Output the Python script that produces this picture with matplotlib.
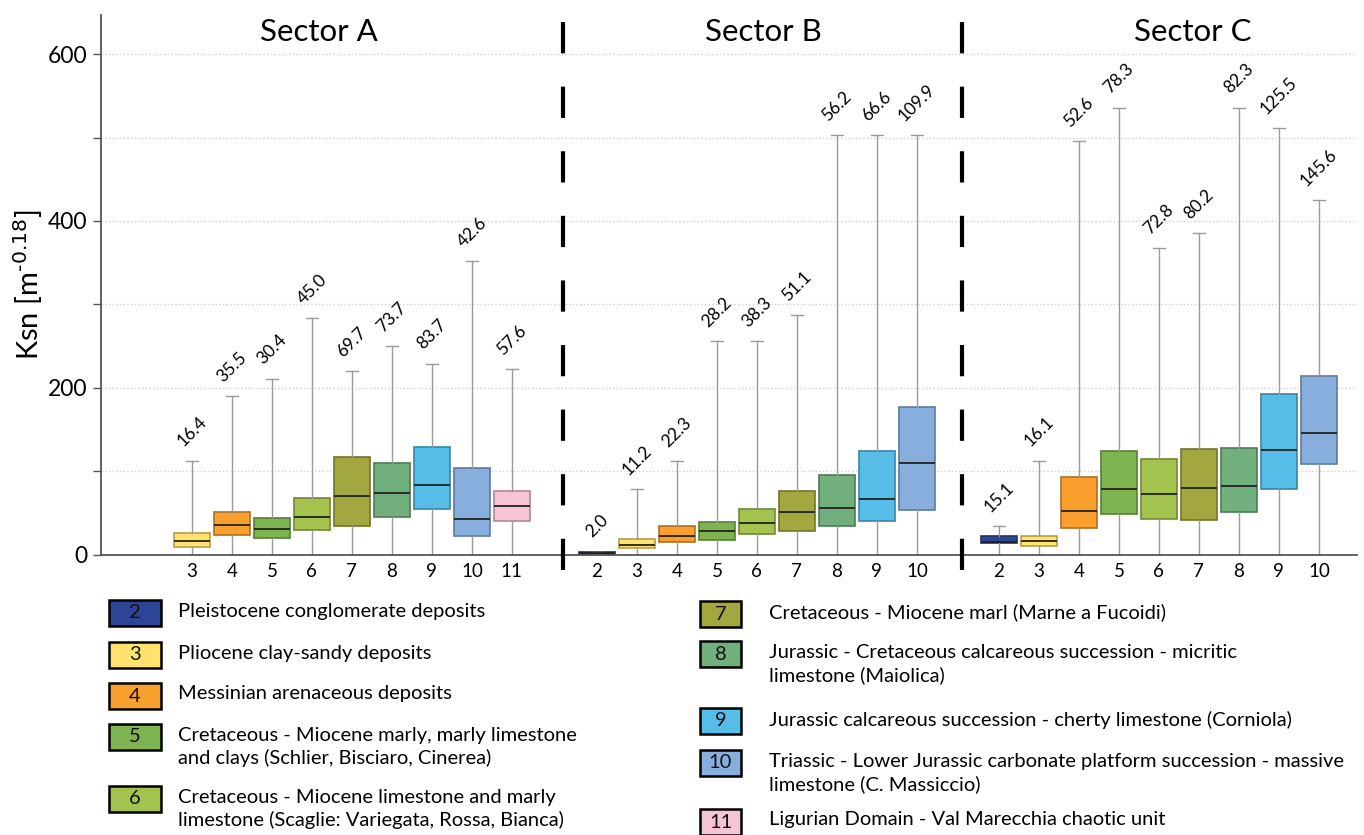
import matplotlib
matplotlib.use("Agg")
import matplotlib.pyplot as plt
from matplotlib.patches import Rectangle

plt.rcParams['font.family'] = ['Lato', 'DejaVu Sans']

# lithology units shown in each sector
units_a = [3, 4, 5, 6, 7, 8, 9, 10, 11]
units_b = [2, 3, 4, 5, 6, 7, 8, 9, 10]
units_c = [2, 3, 4, 5, 6, 7, 8, 9, 10]

# box statistics (Ksn), whiskers go down to 0 everywhere
med_a = [16.4, 35.5, 30.4, 45.0, 69.7, 73.7, 83.7, 42.6, 57.6]
q1_a = [8.6, 23.3, 20.0, 29.7, 34.0, 44.4, 54.0, 22.5, 39.7]
q3_a = [25.3, 50.4, 44.0, 68.3, 117.0, 109.3, 129.3, 103.4, 75.9]
hi_a = [112.5, 189.8, 211.0, 283.6, 220.0, 250.0, 229.0, 352.0, 222.0]

med_b = [2.0, 11.2, 22.3, 28.2, 38.3, 51.1, 56.2, 66.6, 109.9]
q1_b = [0.3, 7.6, 15.1, 17.1, 25.0, 28.7, 33.9, 39.8, 53.0]
q3_b = [2.8, 18.7, 33.9, 39.0, 54.2, 76.5, 95.2, 124.0, 176.5]
hi_b = [3.5, 78.5, 112.3, 255.8, 255.8, 286.8, 503.0, 503.0, 503.0]

med_c = [15.1, 16.1, 52.6, 78.3, 72.8, 80.2, 82.3, 125.5, 145.6]
q1_c = [13.5, 10.0, 31.9, 48.2, 42.6, 41.0, 51.0, 78.5, 108.0]
q3_c = [22.3, 22.3, 93.2, 124.7, 114.3, 127.0, 127.5, 192.4, 213.6]
hi_c = [34.3, 112.7, 495.6, 535.8, 367.0, 385.6, 535.8, 511.5, 425.0]

unit_colors = {2: '#2E4596', 3: '#FFE36E', 4: '#F9A02E', 5: '#7DB450',
               6: '#A4C24E', 7: '#A2A83F', 8: '#71AF7C', 9: '#56BDE8',
               10: '#88AEDE', 11: '#F7C3D6'}

legend_left = [2, 3, 4, 5, 6]
legend_left_text = ["Pleistocene conglomerate deposits",
                    "Pliocene clay-sandy deposits",
                    "Messinian arenaceous deposits",
                    "Cretaceous - Miocene marly, marly limestone\nand clays (Schlier, Bisciaro, Cinerea)",
                    "Cretaceous - Miocene limestone and marly\nlimestone (Scaglie: Variegata, Rossa, Bianca)"]
legend_right = [7, 8, 9, 10, 11]
legend_right_text = ["Cretaceous - Miocene marl (Marne a Fucoidi)",
                     "Jurassic - Cretaceous calcareous succession - micritic\nlimestone (Maiolica)",
                     "Jurassic calcareous succession - cherty limestone (Corniola)",
                     "Triassic - Lower Jurassic carbonate platform succession - massive\nlimestone (C. Massiccio)",
                     "Ligurian Domain - Val Marecchia chaotic unit"]


def darker(c, f=0.7):
    r, g, b = matplotlib.colors.to_rgb(c)
    return (r * f, g * f, b * f)


fig = plt.figure(figsize=(13.64, 8.35), dpi=100)
ax = fig.add_axes([0.0740, 0.3359, 0.9208, 0.6462])

# name, units, stats, first position, title position
sectors = [("Sector A", units_a, med_a, q1_a, q3_a, hi_a, 2.275, 5.45),
           ("Sector B", units_b, med_b, q1_b, q3_b, hi_b, 12.4, 16.575),
           ("Sector C", units_c, med_c, q1_c, q3_c, hi_c, 22.45, 27.3)]

ticks, ticklabels = [], []
for name, units, med, q1, q3, hi, x0, xt in sectors:
    pos = [x0 + i for i in range(len(units))]
    stats = [dict(med=m, q1=a, q3=b, whislo=0.0, whishi=h)
             for m, a, b, h in zip(med, q1, q3, hi)]
    bp = ax.bxp(stats, positions=pos, widths=0.92, showfliers=False,
                patch_artist=True, capwidths=0.28, manage_ticks=False,
                whiskerprops=dict(color='#9a9a9a', lw=1.0),
                capprops=dict(color='#9a9a9a', lw=1.0),
                medianprops=dict(color='#222222', lw=1.3))
    for box, u in zip(bp['boxes'], units):
        box.set_facecolor(unit_colors[u])
        box.set_edgecolor(darker(unit_colors[u]))
        box.set_linewidth(1.2)
    for x, m, h in zip(pos, med, hi):
        ax.annotate(f"{m:.1f}", (x, h), xytext=(0, 8), textcoords='offset points',
                    rotation=45, ha='center', va='bottom', fontsize=12.5)
    ticks += pos
    ticklabels += [str(u) for u in units]
    ax.text(xt, 626, name, ha='center', va='center', fontsize=22.5)

# sector separators
for xs in [11.55, 21.525]:
    ax.plot([xs, xs], [-18, 650], color='black', lw=3.0, dashes=(7.5, 8.0),
            clip_on=False, zorder=5)

ax.set_xlim(0, 31.4)
ax.set_ylim(0, 647)
ax.set_xticks(ticks)
ax.set_xticklabels(ticklabels, fontsize=13.5)
ax.tick_params(axis='x', length=0, pad=6)
ax.set_yticks([0, 200, 400, 600])
ax.set_yticks([100, 300, 500], minor=True)
ax.tick_params(axis='y', which='both', length=6, width=1, color='#555555',
               labelsize=16.5, pad=4)
ax.grid(axis='y', which='both', linestyle=':', color='#cfcfcf', lw=1.0)
ax.set_axisbelow(True)
for s in ['top', 'right']:
    ax.spines[s].set_visible(False)
for s in ['left', 'bottom']:
    ax.spines[s].set_color('#555555')
    ax.spines[s].set_linewidth(1.3)
ax.set_ylabel(r"Ksn [m$^{\text{-0.18}}$]", fontsize=21, labelpad=2)

# legend panel in pixel coordinates
lax = fig.add_axes([0, 0, 1, 1], zorder=-1)
lax.set_xlim(0, 1364)
lax.set_ylim(835, 0)
lax.axis('off')

left_rows = [613, 655, 696, 737, 799]
right_rows = [614, 654, 721, 763, 822]
for units, texts, rows, sx, sw, tx in [(legend_left, legend_left_text, left_rows, 109, 52, 178),
                                       (legend_right, legend_right_text, right_rows, 700, 41, 769)]:
    for u, t, y in zip(units, texts, rows):
        lax.add_patch(Rectangle((sx, y - 13), sw, 26, facecolor=unit_colors[u],
                                edgecolor='black', lw=1.8))
        lax.text(sx + sw / 2, y, str(u), ha='center', va='center', fontsize=14.5,
                 color='#111111')
        lax.text(tx, y - 10.5, t, ha='left', va='top', fontsize=14.5, linespacing=1.38)

fig.savefig('out.png', dpi=100)
